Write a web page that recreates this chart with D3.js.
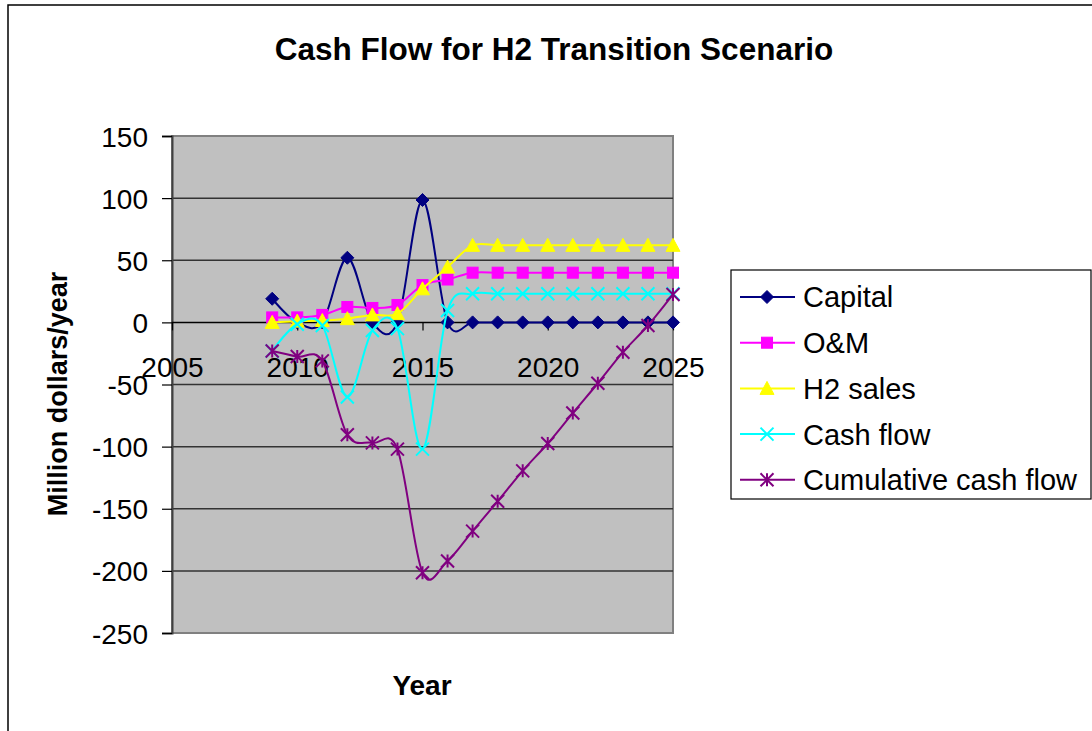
<!DOCTYPE html>
<html>
<head>
<meta charset="utf-8">
<script src="https://cdn.jsdelivr.net/npm/d3@7"></script>
<style>
  html, body { margin: 0; padding: 0; background: #fff; }
  svg { display: block; font-family: "Liberation Sans", Arial, sans-serif; }
</style>
</head>
<body>
<svg id="chart" width="1092" height="731"></svg>
<script>
// ---- data ----
const years = [2009, 2010, 2011, 2012, 2013, 2014, 2015, 2016, 2017, 2018, 2019, 2020, 2021, 2022, 2023, 2024, 2025];
const capital = [19, 0, 0, 52, 0, 0, 98.5, 0, 0, 0, 0, 0, 0, 0, 0, 0, 0];
const om = [4, 4, 6, 12.4, 11.6, 14, 30, 34.5, 40, 40, 40, 40, 40, 40, 40, 40, 40];
const h2sales = [0, 1, 1.5, 3, 6, 7, 27, 44.5, 62, 62, 62, 62, 62, 62, 62, 62, 62];
const cashFlow = [-23, -1.5, -2.5, -60, -6.5, -5, -102, 9.5, 23, 23, 23, 23, 23, 23, 23, 23, 23];
const cumulative = [-23, -27.5, -31, -90.5, -97, -102, -201.5, -192, -168, -144, -119.5, -97.5, -73, -49, -24, -2.5, 22.5];
const seriesNames = ["Capital", "O&M", "H2 sales", "Cash flow", "Cumulative cash flow"];
const xTicks = [2005, 2010, 2015, 2020, 2025];
const yTicks = [150, 100, 50, 0, -50, -100, -150, -200, -250];
const titleText = "Cash Flow for H2 Transition Scenario";
const xTitle = "Year";
const yTitle = "Million dollars/year";

const seriesValues = [capital, om, h2sales, cashFlow, cumulative];
const colors = ["#000080", "#FF00FF", "#FFFF00", "#00FFFF", "#800080"];
const symbols = ["diamond", "square", "triangle", "x", "star"];

const svg = d3.select("#chart");
const plot = { left: 172, right: 673, top: 136, bottom: 633 };

const x = d3.scaleLinear().domain([2005, 2025]).range([plot.left, plot.right]);
const y = d3.scaleLinear().domain([-250, 150]).range([plot.bottom, plot.top]);

// outer frame
svg.append("rect").attr("x", 8).attr("y", 5).attr("width", 1110).attr("height", 760)
  .attr("fill", "#fff").attr("stroke", "#000").attr("stroke-width", 1.5);

// title
svg.append("text").attr("x", 554).attr("y", 60).attr("text-anchor", "middle")
  .attr("font-size", 31.5).attr("font-weight", "bold").text(titleText);

// plot background
svg.append("rect").attr("x", plot.left).attr("y", plot.top)
  .attr("width", plot.right - plot.left).attr("height", plot.bottom - plot.top)
  .attr("fill", "#C0C0C0").attr("stroke", "#808080").attr("stroke-width", 2);

// gridlines
svg.append("g").selectAll("line").data(yTicks.filter(v => v !== 150 && v !== -250 && v !== 0)).join("line")
  .attr("x1", plot.left).attr("x2", plot.right)
  .attr("y1", d => y(d)).attr("y2", d => y(d))
  .attr("stroke", "#333").attr("stroke-width", 1.5);

// y axis
const yAxis = d3.axisLeft(y).tickValues(yTicks).tickSize(10).tickPadding(14).tickFormat(d => String(d));
const gy = svg.append("g").attr("transform", `translate(${plot.left},0)`).call(yAxis);
gy.select(".domain").attr("stroke", "#404040").attr("stroke-width", 2);
gy.selectAll(".tick line").attr("stroke", "#000").attr("stroke-width", 1.2);
gy.selectAll(".tick text").attr("font-size", 28).attr("font-family", "Liberation Sans, Arial, sans-serif").attr("fill", "#000").attr("dy", "0.36em");

// x axis at y=0
const xAxis = d3.axisBottom(x).tickValues(xTicks).tickSize(8).tickPadding(27).tickFormat(d => String(d));
const gx = svg.append("g").attr("transform", `translate(0,${y(0)})`).call(xAxis);
gx.select(".domain").attr("stroke", "#000").attr("stroke-width", 1.5).attr("d", `M${plot.left},0H${plot.right}`);
gx.selectAll(".tick line").attr("stroke", "#000").attr("stroke-width", 1.2);
gx.selectAll(".tick text").attr("font-size", 28).attr("font-family", "Liberation Sans, Arial, sans-serif").attr("fill", "#000");

// axis titles
svg.append("text").attr("x", 422).attr("y", 695).attr("text-anchor", "middle")
  .attr("font-size", 28).attr("font-weight", "bold").text(xTitle);
svg.append("text").attr("transform", "translate(58,394) rotate(-90)").attr("text-anchor", "middle")
  .attr("dy", "0.35em").attr("font-size", 27).attr("font-weight", "bold").text(yTitle);

// marker drawing
function drawMarker(g, type, cx, cy, color) {
  const s = 6.5;
  if (type === "diamond") {
    g.append("path").attr("d", `M${cx},${cy - s}L${cx + s},${cy}L${cx},${cy + s}L${cx - s},${cy}Z`)
      .attr("fill", color).attr("stroke", color).attr("stroke-width", 1);
  } else if (type === "square") {
    g.append("rect").attr("x", cx - 5.5).attr("y", cy - 5.5).attr("width", 11).attr("height", 11)
      .attr("fill", color).attr("stroke", color).attr("stroke-width", 1);
  } else if (type === "triangle") {
    g.append("path").attr("d", `M${cx},${cy - 7}L${cx + 7},${cy + 6}L${cx - 7},${cy + 6}Z`)
      .attr("fill", color).attr("stroke", color).attr("stroke-width", 1);
  } else if (type === "x") {
    g.append("path").attr("d", `M${cx - s},${cy - s}L${cx + s},${cy + s}M${cx - s},${cy + s}L${cx + s},${cy - s}`)
      .attr("stroke", color).attr("stroke-width", 2).attr("fill", "none");
  } else if (type === "star") {
    g.append("path").attr("d", `M${cx - s},${cy - s}L${cx + s},${cy + s}M${cx - s},${cy + s}L${cx + s},${cy - s}M${cx},${cy - s}L${cx},${cy + s}`)
      .attr("stroke", color).attr("stroke-width", 2).attr("fill", "none");
  }
}

// series
const line = d3.line().x(d => x(d[0])).y(d => y(d[1])).curve(d3.curveCardinal.tension(0));
seriesValues.forEach((vals, i) => {
  const pts = years.map((yr, j) => [yr, vals[j]]);
  const g = svg.append("g");
  g.append("path").datum(pts).attr("d", line).attr("fill", "none")
    .attr("stroke", colors[i]).attr("stroke-width", 2);
  pts.forEach(p => drawMarker(g, symbols[i], x(p[0]), y(p[1]), colors[i]));
});

// legend
const leg = svg.append("g");
leg.append("rect").attr("x", 731).attr("y", 270).attr("width", 360).attr("height", 229)
  .attr("fill", "#fff").attr("stroke", "#000").attr("stroke-width", 1.2);
seriesNames.forEach((name, i) => {
  const cy = 297 + i * 45.7;
  leg.append("line").attr("x1", 740).attr("x2", 795).attr("y1", cy).attr("y2", cy)
    .attr("stroke", colors[i]).attr("stroke-width", 2);
  drawMarker(leg, symbols[i], 767, cy, colors[i]);
  leg.append("text").attr("x", 803).attr("y", cy).attr("dy", "0.36em")
    .attr("font-size", 29).text(name);
});
</script>
</body>
</html>
